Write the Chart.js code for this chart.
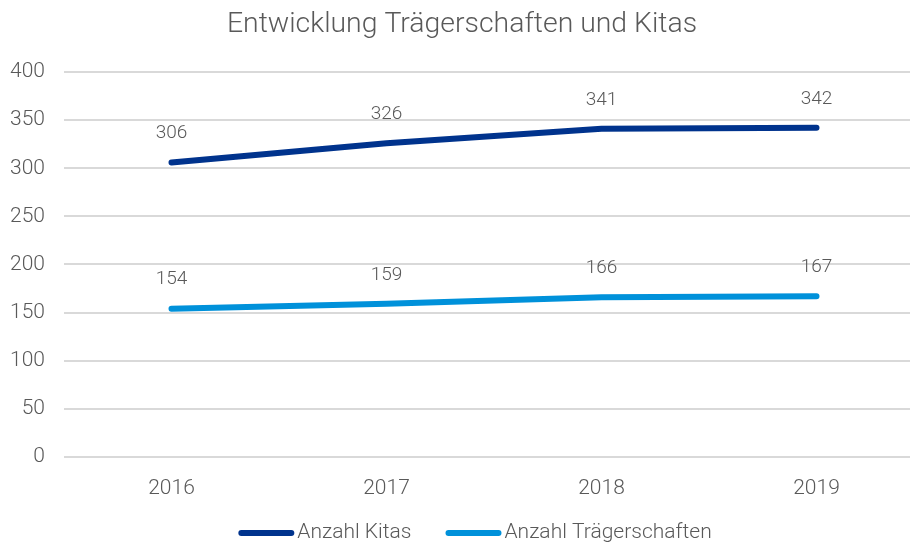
<!DOCTYPE html>
<html>
<head>
<meta charset="utf-8">
<script src="https://cdn.jsdelivr.net/npm/chart.js@4"></script>
<style>
html,body{margin:0;padding:0;overflow:hidden;background:#fff;}
#wrap{width:942px;height:544px;position:relative;}
</style>
</head>
<body>
<div id="wrap"><canvas id="c" width="942" height="544"></canvas></div>
<script>
const categories = ['2016', '2017', '2018', '2019'];
const kitas = [306, 326, 341, 342];
const traeger = [154, 159, 166, 167];
const seriesNames = ['Anzahl Kitas', 'Anzahl Trägerschaften'];
const seriesColors = ['#00338D', '#0091DA'];
const yTicks = [0, 50, 100, 150, 200, 250, 300, 350, 400];

const FONT = 'Roboto';
const GRAY = '#595959';

const labelPlugin = {
  id: 'pointLabels',
  afterDatasetsDraw(chart) {
    const ctx = chart.ctx;
    ctx.save();
    ctx.font = '300 19px ' + FONT;
    ctx.fillStyle = GRAY;
    ctx.textAlign = 'center';
    ctx.textBaseline = 'middle';
    chart.data.datasets.forEach((ds, i) => {
      const meta = chart.getDatasetMeta(i);
      meta.data.forEach((pt, j) => {
        ctx.fillText(String(ds.data[j]), pt.x, pt.y - 29);
      });
    });
    ctx.restore();
  }
};

const legendPlugin = {
  id: 'lineLegend',
  afterDraw(chart) {
    const ctx = chart.ctx;
    ctx.save();
    ctx.font = '300 21px ' + FONT;
    ctx.textBaseline = 'middle';
    ctx.textAlign = 'left';
    const mark = 56, gap = 3, spacing = 34;
    const items = chart.data.datasets.map(ds => ({text: ds.label, color: ds.borderColor, w: ctx.measureText(ds.label).width}));
    const total = items.reduce((s, it) => s + mark + gap + it.w, 0) + spacing * (items.length - 1);
    let x = chart.width / 2 + 4 - total / 2;
    const y = 533;
    items.forEach(it => {
      ctx.strokeStyle = it.color;
      ctx.lineWidth = 6;
      ctx.lineCap = 'round';
      ctx.beginPath();
      ctx.moveTo(x + 3, y);
      ctx.lineTo(x + mark - 3, y);
      ctx.stroke();
      ctx.fillStyle = GRAY;
      ctx.fillText(it.text, x + mark + gap, y);
      x += mark + gap + it.w + spacing;
    });
    ctx.restore();
  }
};

new Chart(document.getElementById('c'), {
  type: 'line',
  data: {
    labels: categories,
    datasets: [
      {label: seriesNames[0], data: kitas, borderColor: seriesColors[0], backgroundColor: seriesColors[0],
       borderWidth: 6, borderCapStyle: 'round', borderJoinStyle: 'round', pointRadius: 0, tension: 0},
      {label: seriesNames[1], data: traeger, borderColor: seriesColors[1], backgroundColor: seriesColors[1],
       borderWidth: 6, borderCapStyle: 'round', borderJoinStyle: 'round', pointRadius: 0, tension: 0}
    ]
  },
  options: {
    responsive: false,
    animation: false,
    layout: {padding: {left: 0, right: 18, top: 8, bottom: 32}},
    plugins: {
      title: {display: true, text: 'Entwicklung Trägerschaften und Kitas', color: GRAY,
        font: {family: FONT, size: 28.4, weight: '300'}, padding: {top: 0, bottom: 30}},
      legend: {display: false},
      tooltip: {enabled: false}
    },
    scales: {
      x: {offset: true, grid: {display: false}, border: {display: false},
        ticks: {color: GRAY, font: {family: FONT, size: 21, weight: '300'}, padding: 11}},
      y: {min: 0, max: 400, border: {display: false},
        afterBuildTicks(axis) { axis.ticks = yTicks.map(v => ({value: v})); },
        afterFit(axis) { axis.width = 64; },
        grid: {color: '#d9d9d9', lineWidth: 2, drawTicks: false},
        ticks: {color: GRAY, font: {family: FONT, size: 21, weight: '300'}, padding: 19}}
    }
  },
  plugins: [labelPlugin, legendPlugin]
});
</script>
</body>
</html>
